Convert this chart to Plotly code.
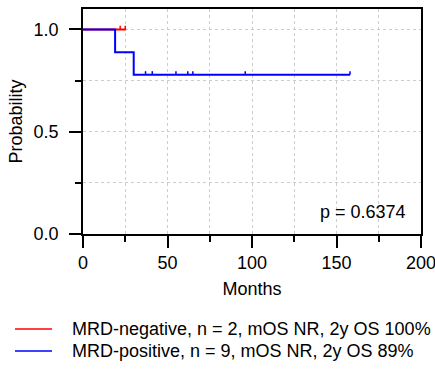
import plotly.graph_objects as go

# Kaplan-Meier step data
neg_times = [0, 25.5]
neg_surv = [1.0, 1.0]
neg_censor_t = [22, 25]
neg_censor_s = [1.0, 1.0]

pos_times = [0, 19, 30, 158]
pos_surv = [1.0, 0.889, 0.778, 0.778]
pos_censor_t = [37, 41, 55, 62, 65, 96, 158]
pos_censor_s = [0.778] * 7

neg_label = "MRD-negative, n = 2, mOS NR, 2y OS 100%"
pos_label = "MRD-positive, n = 9, mOS NR, 2y OS 89%"
p_text = "p = 0.6374"

x_ticks = [0, 50, 100, 150, 200]
y_ticks = [0.0, 0.5, 1.0]
y_ticklabels = ["0.0", "0.5", "1.0"]

RED = "#ff0000"
BLUE = "#0000ff"
FONT = "Liberation Sans, Arial, sans-serif"
FS = 18

W, H = 435, 377
ML, MR, MT, MB = 83, 14, 9, 143
PW = W - ML - MR
PH = H - MT - MB

fig = go.Figure()


def px_to_paper_x(px):
    return (px - ML) / PW


def px_to_paper_y(py):
    return (H - MB - py) / PH


def add_group(times, surv, ct, cs, color, name, legend_y):
    fig.add_trace(go.Scatter(x=times, y=surv, mode="lines", line=dict(color=color, width=2, shape="hv"),
                             name=name, showlegend=False))
    fig.add_trace(go.Scatter(x=ct, y=cs, mode="markers", marker=dict(size=1, color="rgba(0,0,0,0)"),
                             error_y=dict(type="constant", value=0.018, valueminus=0, symmetric=False,
                                          width=0, thickness=1.5, color=color),
                             showlegend=False, hoverinfo="skip"))
    # legend entry
    fig.add_shape(type="line", xref="paper", yref="paper",
                  x0=px_to_paper_x(15), x1=px_to_paper_x(52),
                  y0=px_to_paper_y(legend_y), y1=px_to_paper_y(legend_y),
                  line=dict(color=color, width=1.5))
    fig.add_annotation(xref="paper", yref="paper", x=px_to_paper_x(70), y=px_to_paper_y(legend_y),
                       text=name, showarrow=False, xanchor="left", yanchor="middle",
                       font=dict(size=FS, family=FONT, color="#000"))


add_group(neg_times, neg_surv, neg_censor_t, neg_censor_s, RED, neg_label, 329)
add_group(pos_times, pos_surv, pos_censor_t, pos_censor_s, BLUE, pos_label, 351)

fig.add_annotation(x=139, y=0.109, xref="x", yref="y", text=p_text, showarrow=False,
                   xanchor="left", yanchor="middle", font=dict(size=FS, color="#000", family=FONT))

grid = dict(showgrid=True, gridcolor="#cccccc", griddash="dot", gridwidth=1)

fig.update_xaxes(range=[0, 200], tickvals=x_ticks, ticktext=[str(v) for v in x_ticks],
                 ticks="outside", ticklen=12, tickwidth=1.5, tickcolor="#000",
                 showline=True, linecolor="#000", linewidth=1.5, mirror=True,
                 minor=dict(dtick=25, tick0=0, ticks="outside", ticklen=6, tickwidth=1.5, tickcolor="#000",
                            showgrid=True, gridcolor="#cccccc", griddash="dot"),
                 zeroline=False, ticklabelstandoff=0, automargin=False, ticklabeloverflow="allow",
                 title=dict(text="Months", font=dict(size=FS, family=FONT, color="#000"), standoff=10),
                 tickfont=dict(size=FS, family=FONT, color="#000"), **grid)
fig.update_yaxes(range=[0, 1.1], tickvals=y_ticks, ticktext=y_ticklabels,
                 ticks="outside", ticklen=12, tickwidth=1.5, tickcolor="#000",
                 showline=True, linecolor="#000", linewidth=1.5, mirror=True,
                 minor=dict(dtick=0.25, tick0=0, ticks="outside", ticklen=6, tickwidth=1.5, tickcolor="#000",
                            showgrid=True, gridcolor="#cccccc", griddash="dot"),
                 zeroline=False, ticklabelstandoff=7, automargin=False, ticklabeloverflow="allow",
                 title=dict(text="Probability", font=dict(size=FS, family=FONT, color="#000"), standoff=6),
                 tickfont=dict(size=FS, family=FONT, color="#000"), **grid)

fig.update_layout(
    width=W, height=H,
    margin=dict(l=ML, r=MR, t=MT, b=MB),
    plot_bgcolor="white", paper_bgcolor="white",
    font=dict(family=FONT, size=FS, color="#000"),
    showlegend=False,
)

fig.write_html("out.html", config={"displayModeBar": False},
               post_script="document.body.style.margin='0';")
